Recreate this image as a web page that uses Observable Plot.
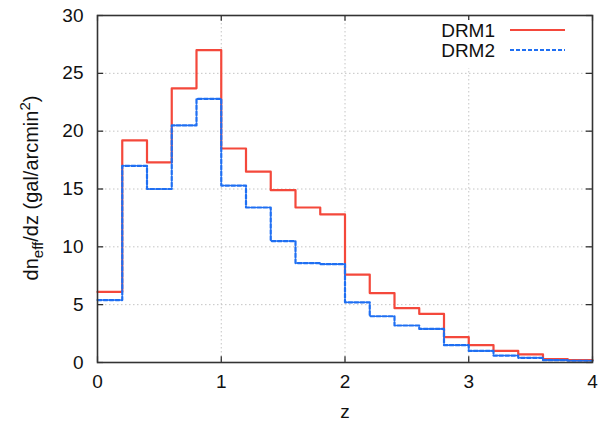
<!DOCTYPE html>
<html><head><meta charset="utf-8">
<script src="https://cdn.jsdelivr.net/npm/d3@7"></script>
<script src="https://cdn.jsdelivr.net/npm/@observablehq/plot@0.6"></script>
<style>body{margin:0;background:#fff} svg{display:block}</style>
</head><body><div id="chart"></div>
<script>
// bin edges (left edges + final right edge)
const zEdges = [0, 0.2, 0.4, 0.6, 0.8, 1.0, 1.2, 1.4, 1.6, 1.8, 2.0, 2.2, 2.4, 2.6, 2.8, 3.0, 3.2, 3.4, 3.6, 3.8, 4.0];
const drm1 = [6.1, 19.2, 17.3, 23.7, 27.0, 18.5, 16.5, 14.9, 13.4, 12.8, 7.6, 6.0, 4.7, 4.2, 2.2, 1.5, 1.0, 0.7, 0.3, 0.2];
const drm2 = [5.4, 17.0, 15.0, 20.5, 22.8, 15.3, 13.4, 10.5, 8.6, 8.5, 5.2, 4.0, 3.2, 2.9, 1.5, 1.0, 0.6, 0.4, 0.2, 0.15];
const seriesNames = ["DRM1", "DRM2"];
const seriesColors = ["#f4483b", "#1f6ff2"];
const xTicks = [0, 1, 2, 3, 4];
const yTicks = [0, 5, 10, 15, 20, 25, 30];
const xLabel = "z";

const rows = (name, vals) => zEdges.map((z, i) => ({series: name, z, v: vals[Math.min(i, vals.length - 1)]}));
const d1 = rows(seriesNames[0], drm1);
const d2 = rows(seriesNames[1], drm2);

const font = "'Liberation Sans', Arial, Helvetica, sans-serif";
const gridStyle = {stroke: "#c4c4c4", strokeDasharray: "1.5,2.5", strokeWidth: 1};
const tickStyle = {stroke: "#222", strokeWidth: 1.2};

const chart = Plot.plot({
  width: 603, height: 422,
  marginLeft: 97, marginRight: 11, marginTop: 15, marginBottom: 60,
  style: {fontFamily: font, fontSize: "19px", color: "#111", background: "#fff"},
  x: {domain: [0, 4], ticks: xTicks},
  y: {domain: [0, 30], ticks: yTicks},
  marks: [
    Plot.ruleX(xTicks.slice(1, -1), gridStyle),
    Plot.ruleY(yTicks.slice(1, -1), gridStyle),
    Plot.line(d1, {x: "z", y: "v", curve: "step-after", stroke: seriesColors[0], strokeWidth: 2.2}),
    Plot.line(d2, {x: "z", y: "v", curve: "step-after", stroke: seriesColors[1], strokeWidth: 2.2, strokeDasharray: "4,2"}),
    Plot.ruleX(xTicks, {y1: 0, y2: 0.5, ...tickStyle}),
    Plot.ruleX(xTicks, {y1: 30, y2: 29.5, ...tickStyle}),
    Plot.ruleY(yTicks, {x1: 0, x2: 0.05, ...tickStyle}),
    Plot.ruleY(yTicks, {x1: 4, x2: 3.95, ...tickStyle}),
    Plot.frame({stroke: "#333", strokeWidth: 1.6}),
    Plot.axisX({ticks: xTicks, tickFormat: d3.format("d"), tickSize: 0, tickPadding: 12, label: xLabel, labelAnchor: "center", labelOffset: 55, labelArrow: "none"}),
    Plot.axisY({ticks: yTicks, tickFormat: d3.format("d"), tickSize: 0, tickPadding: 14, label: null})
  ]
});
document.getElementById("chart").appendChild(chart);

const svg = d3.select(chart);
// y-axis label with subscript / superscript
const yl = svg.append("text")
  .attr("transform", "translate(38,188) rotate(-90)")
  .attr("text-anchor", "middle")
  .attr("font-family", font).attr("font-size", 20).attr("fill", "#111");
yl.append("tspan").text("dn");
yl.append("tspan").attr("font-size", 15).attr("dy", 5).text("eff");
yl.append("tspan").attr("dy", -5).text("/dz (gal/arcmin");
yl.append("tspan").attr("font-size", 15).attr("dy", -8).text("2");
yl.append("tspan").attr("dy", 8).text(")");

// legend (key box, opaque background)
const lg = svg.append("g").attr("font-family", font).attr("font-size", 19).attr("fill", "#111");
lg.append("rect").attr("x", 430).attr("y", 20).attr("width", 148).attr("height", 48).attr("fill", "#fff");
seriesNames.forEach((name, i) => {
  const y = 30 + i * 20;
  lg.append("text").attr("x", 495).attr("y", y).attr("dy", "0.35em").attr("text-anchor", "end").text(name);
  lg.append("line").attr("x1", 510).attr("x2", 565).attr("y1", y).attr("y2", y)
    .attr("stroke", seriesColors[i]).attr("stroke-width", 2.2)
    .attr("stroke-dasharray", i === 1 ? "4,2" : null);
});
</script>
</body></html>
